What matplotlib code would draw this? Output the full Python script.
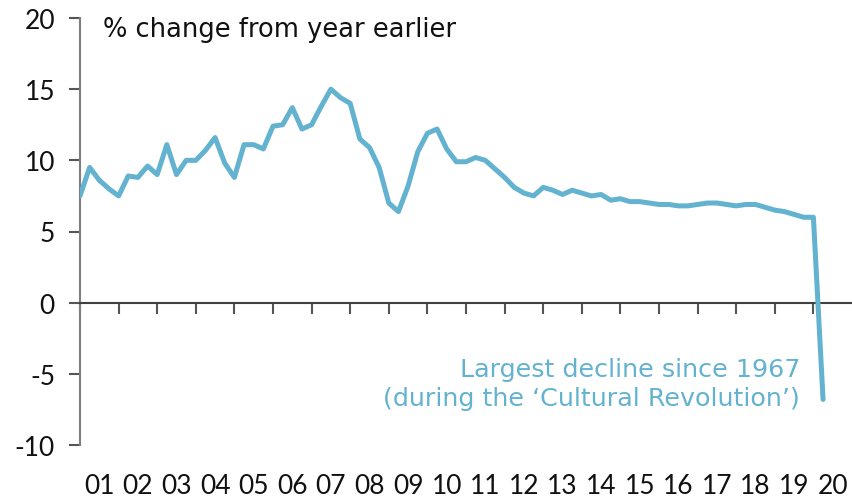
import numpy as np
import matplotlib
matplotlib.use("Agg")
import matplotlib.pyplot as plt

plt.rcParams['font.family'] = ['Lato', 'DejaVu Sans']

# China real GDP, % y/y, quarterly from 2000 Q4 to 2020 Q1
gdp = [7.5,
       9.5, 8.6, 8.0, 7.5,
       8.9, 8.8, 9.6, 9.0,
       11.1, 9.0, 10.0, 10.0,
       10.7, 11.6, 9.8, 8.8,
       11.1, 11.1, 10.8, 12.4,
       12.5, 13.7, 12.2, 12.5,
       13.8, 15.0, 14.4, 14.0,
       11.5, 10.9, 9.5, 7.0,
       6.4, 8.2, 10.6, 11.9,
       12.2, 10.8, 9.9, 9.9,
       10.2, 10.0, 9.4, 8.8,
       8.1, 7.7, 7.5, 8.1,
       7.9, 7.6, 7.9, 7.7,
       7.5, 7.6, 7.2, 7.3,
       7.1, 7.1, 7.0, 6.9,
       6.9, 6.8, 6.8, 6.9,
       7.0, 7.0, 6.9, 6.8,
       6.9, 6.9, 6.7, 6.5,
       6.4, 6.2, 6.0, 6.0,
       -6.8]
year_labels = ["01", "02", "03", "04", "05", "06", "07", "08", "09", "10",
               "11", "12", "13", "14", "15", "16", "17", "18", "19", "20"]
y_ticks = [-10, -5, 0, 5, 10, 15, 20]

dates = 2001 + 0.25 * np.arange(len(gdp))
line_col = '#62B2D0'

fig = plt.figure(figsize=(8.52, 5.02), dpi=100)
ax = fig.add_axes([80 / 852, 1 - 446 / 502, 772 / 852, 427 / 502])

ax.plot(dates, gdp, color=line_col, lw=3.6, solid_joinstyle='round',
        solid_capstyle='round', zorder=3)

ax.set_xlim(2001, 2021)
ax.set_ylim(-10, 20)

# spines
for s in ['top', 'right']:
    ax.spines[s].set_visible(False)
ax.spines['left'].set_color('#7f7f7f')
ax.spines['left'].set_linewidth(1.5)
ax.spines['bottom'].set_position(('data', 0))
ax.spines['bottom'].set_color('#404040')
ax.spines['bottom'].set_linewidth(1.5)

# y axis
ax.set_yticks(y_ticks)
ax.set_yticklabels([str(v) for v in y_ticks])
ax.tick_params(axis='y', direction='out', length=8, width=1.5,
               color='#555555', labelsize=19, pad=10, labelcolor='#111111')

# x axis: ticks on zero line at year boundaries, labels at the bottom
ax.set_xticks(np.arange(2001, 2021))
ax.tick_params(axis='x', direction='out', length=8, width=1.5,
               color='#555555', labelbottom=False)

sec = ax.secondary_xaxis(0.0)
sec.spines['bottom'].set_visible(False)
sec.set_xticks(np.arange(2001, 2021) + 0.5)
sec.set_xticklabels(year_labels)
sec.tick_params(axis='x', length=0, labelsize=19, pad=20,
                labelcolor='#111111')

ax.text(103 / 852, 1 - 30 / 502, '% change from year earlier',
        transform=fig.transFigure, fontsize=18.5, va='center', ha='left',
        color='#111111', family='DejaVu Sans')

ax.text(2019.65, -5.7, 'Largest decline since 1967\n(during the \u2018Cultural Revolution\u2019)',
        fontsize=18.3, color=line_col, ha='right', va='center',
        multialignment='right', linespacing=1.25, family='DejaVu Sans')

fig.savefig('out.png', dpi=100)
